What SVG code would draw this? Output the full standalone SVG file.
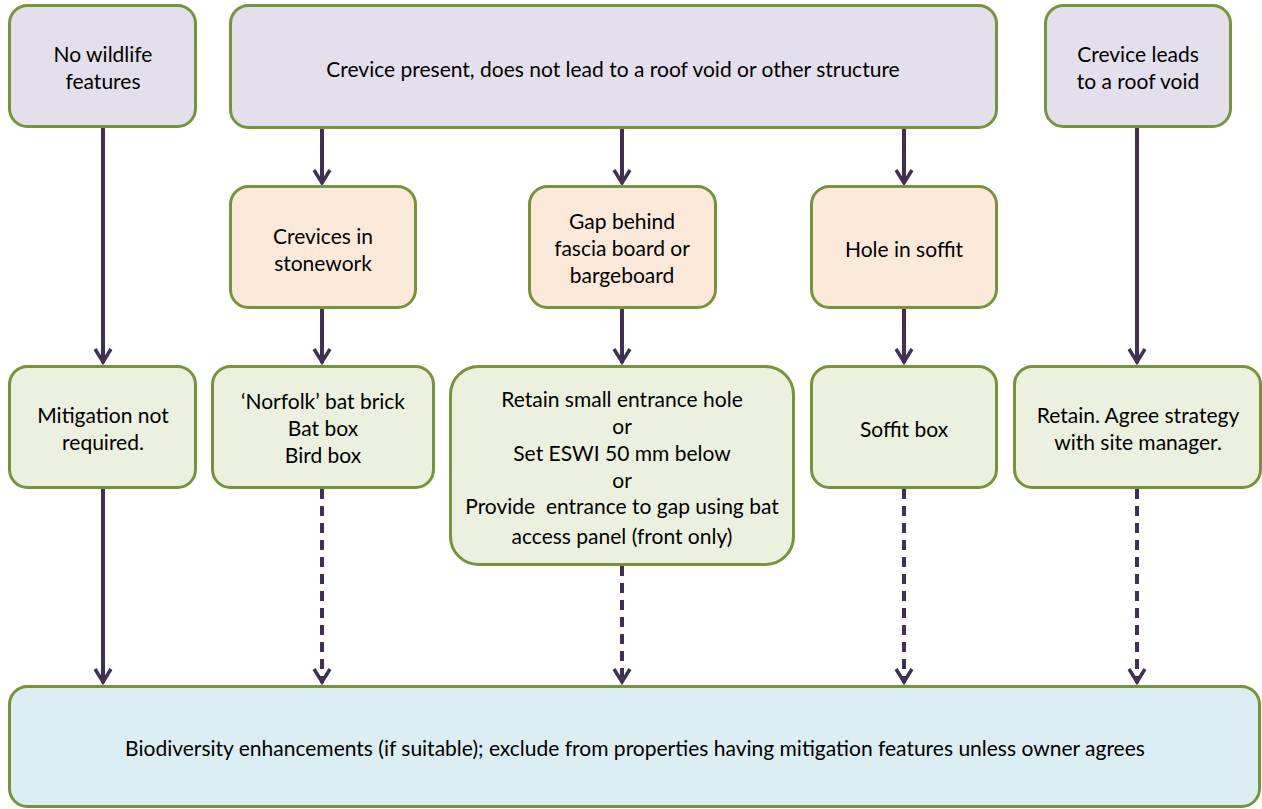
<svg xmlns="http://www.w3.org/2000/svg" width="1262" height="809" viewBox="0 0 1262 809">
<style>
.n{stroke:#77933C;stroke-width:3}
.p{fill:#E4DFEC}
.o{fill:#FDE9D9}
.g{fill:#EBF1DE}
.b{fill:#DBEEF3}
text{font-family:Lato,"Open Sans","Liberation Sans",sans-serif;font-size:21px;fill:#000;text-anchor:middle}
.dash{stroke-dasharray:10 7}
</style>
<rect width="1262" height="809" fill="#fff"/>
<g id="connectors" stroke="#403152" stroke-width="4" fill="none" stroke-linejoin="miter">
<line x1="103" y1="128" x2="103" y2="363"/>
<line x1="322" y1="129" x2="322" y2="183"/>
<line x1="622" y1="129" x2="622" y2="183"/>
<line x1="904" y1="129" x2="904" y2="183"/>
<line x1="1137" y1="128" x2="1137" y2="363"/>
<line x1="322" y1="309" x2="322" y2="363"/>
<line x1="622" y1="309" x2="622" y2="363"/>
<line x1="904" y1="309" x2="904" y2="363"/>
<line x1="103" y1="489" x2="103" y2="683"/>
<line class="dash" x1="322" y1="489" x2="322" y2="683"/>
<line class="dash" x1="622" y1="566" x2="622" y2="683"/>
<line class="dash" x1="904" y1="489" x2="904" y2="683"/>
<line class="dash" x1="1137" y1="489" x2="1137" y2="683"/>
<g stroke-width="3.5">
<polyline points="95,349 103,362 111,349"/>
<polyline points="314,170 322,183 330,170"/>
<polyline points="614,170 622,183 630,170"/>
<polyline points="896,170 904,183 912,170"/>
<polyline points="1129,349 1137,362 1145,349"/>
<polyline points="314,349 322,362 330,349"/>
<polyline points="614,349 622,362 630,349"/>
<polyline points="896,349 904,362 912,349"/>
<polyline points="95,669 103,682 111,669"/>
<polyline points="314,669 322,682 330,669"/>
<polyline points="614,669 622,682 630,669"/>
<polyline points="896,669 904,682 912,669"/>
<polyline points="1129,669 1137,682 1145,669"/>
</g>
</g>
<g id="n-nowildlife"><rect class="n p" x="9.5" y="5.5" width="186" height="121" rx="18"/><text x="103" y="62">No wildlife</text><text x="103" y="89">features</text></g>
<g id="n-crevice"><rect class="n p" x="230.5" y="5.5" width="766" height="122" rx="18"/><text x="613" y="77">Crevice present, does not lead to a roof void or other structure</text></g>
<g id="n-roofvoid"><rect class="n p" x="1045.5" y="5.5" width="185" height="121" rx="18"/><text x="1138" y="62">Crevice leads</text><text x="1138" y="89">to a roof void</text></g>
<g id="n-stonework"><rect class="n o" x="230.5" y="186.5" width="185" height="121" rx="18"/><text x="323" y="244">Crevices in</text><text x="323" y="271">stonework</text></g>
<g id="n-fascia"><rect class="n o" x="529.5" y="186.5" width="186" height="121" rx="18"/><text x="622" y="229">Gap behind</text><text x="622" y="256">fascia board or</text><text x="622" y="283">bargeboard</text></g>
<g id="n-soffit"><rect class="n o" x="811.5" y="186.5" width="185" height="121" rx="18"/><text x="904" y="257">Hole in soffit</text></g>
<g id="n-mitigation"><rect class="n g" x="9.5" y="366.5" width="186" height="121" rx="18"/><text x="103" y="423">Mitigation not</text><text x="103" y="450">required.</text></g>
<g id="n-norfolk"><rect class="n g" x="212.5" y="366.5" width="221" height="121" rx="18"/><text x="323" y="409">‘Norfolk’ bat brick</text><text x="323" y="436">Bat box</text><text x="323" y="463">Bird box</text></g>
<g id="n-retainhole"><rect class="n g" x="450.5" y="366.5" width="343" height="198" rx="28"/><text x="622" y="407">Retain small entrance hole</text><text x="622" y="434">or</text><text x="622" y="461">Set ESWI 50 mm below</text><text x="622" y="488">or</text><text x="622" y="514" xml:space="preserve">Provide  entrance to gap using bat</text><text x="622" y="544">access panel (front only)</text></g>
<g id="n-soffitbox"><rect class="n g" x="811.5" y="366.5" width="185" height="121" rx="18"/><text x="904" y="437">Soffit box</text></g>
<g id="n-retain"><rect class="n g" x="1014.5" y="366.5" width="246" height="121" rx="18"/><text x="1138" y="423">Retain. Agree strategy</text><text x="1138" y="450">with site manager.</text></g>
<g id="n-biodiversity"><rect class="n b" x="9.5" y="686.5" width="1250" height="120" rx="18"/><text x="635" y="756">Biodiversity enhancements (if suitable); exclude from properties having mitigation features unless owner agrees</text></g>
</svg>
